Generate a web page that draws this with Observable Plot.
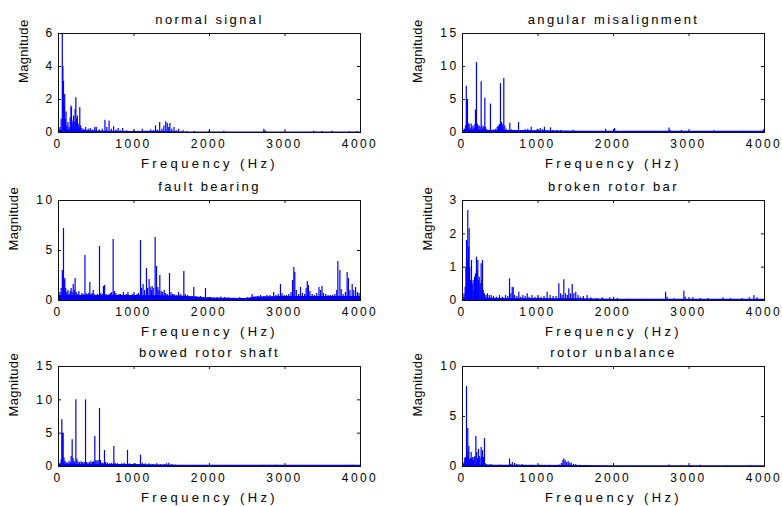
<!DOCTYPE html>
<html><head><meta charset="utf-8">
<script src="https://cdn.jsdelivr.net/npm/d3@7"></script>
<script src="https://cdn.jsdelivr.net/npm/@observablehq/plot@0.6"></script>
<style>
body{margin:0;background:#fff}
#chart{position:relative;width:782px;height:506px;background:#fff;overflow:hidden}
#chart svg{position:absolute;overflow:visible}
</style>
</head><body>
<div id="chart"></div>
<script>
// ---- data (frequency Hz, magnitude) ----
const xTicks = [0, 1000, 2000, 3000, 4000];
const xLabel = "Frequency (Hz)";
const yLabel = "Magnitude";

const titles = ["normal signal", "angular misalignment", "fault bearing", "broken rotor bar", "bowed rotor shaft", "rotor unbalance"];
const yMaxes = [6, 15, 10, 3, 15, 10];
const yTickSets = [[0,2,4,6],[0,5,10,15],[0,5,10],[0,1,2,3],[0,5,10,15],[0,5,10]];

const normalPeaks = [[20,0.3],[35,0.8],[50,5.95],[58,4.0],[66,3.1],[75,1.5],[82,2.3],[90,0.8],[100,1.25],[110,0.4],[125,0.6],[140,0.3],[155,0.9],[165,1.6],[172,1.5],[180,0.7],[190,0.5],[200,1.0],[210,0.6],[220,1.4],[230,2.1],[240,0.8],[250,1.0],[262,0.5],[272,0.3],[282,1.5],[292,0.4],[310,0.25],[335,0.2],[360,0.3],[395,0.2],[420,0.25],[450,0.15],[480,0.3],[500,0.3],[540,0.15],[580,0.2],[615,0.75],[640,0.3],[670,0.7],[700,0.2],[730,0.35],[760,0.15],[790,0.25],[820,0.1],[850,0.25],[900,0.1],[1000,0.12],[1050,0.08],[1110,0.2],[1170,0.08],[1220,0.15],[1260,0.12],[1285,0.4],[1310,0.15],[1340,0.6],[1370,0.2],[1395,0.4],[1420,0.65],[1440,0.55],[1460,0.3],[1475,0.55],[1500,0.2],[1530,0.3],[1560,0.1],[1590,0.2],[1650,0.1],[1700,0.06],[1800,0.06],[1990,0.08],[2190,0.07],[2720,0.2],[2740,0.1],[3380,0.07],[3490,0.06],[3625,0.07],[3850,0.05],[3950,0.06]];
const normalFloor = [[0,0.15],[300,0.12],[600,0.08],[1000,0.06],[1300,0.08],[1600,0.05],[1700,0.03],[4000,0.03]];

const angularPeaks = [[25,0.5],[40,1.0],[50,7.0],[58,5.0],[66,5.0],[75,1.3],[88,1.3],[100,0.6],[115,1.3],[125,0.8],[140,1.0],[155,0.6],[165,1.2],[172,3.4],[185,10.6],[195,1.3],[205,1.0],[220,1.0],[232,0.8],[247,7.7],[258,1.0],[270,0.6],[282,0.9],[296,5.2],[305,0.8],[320,0.4],[340,0.3],[370,4.3],[385,0.3],[410,0.4],[440,0.5],[460,0.8],[475,1.0],[490,1.2],[503,7.4],[515,1.5],[525,1.3],[535,1.0],[547,8.2],[560,1.0],[580,0.5],[600,0.3],[627,1.4],[650,0.4],[680,0.3],[710,0.3],[742,1.5],[770,0.3],[800,0.3],[830,0.4],[865,0.5],[910,0.8],[950,0.3],[990,0.5],[1030,0.6],[1060,0.4],[1085,0.8],[1120,0.3],[1165,0.7],[1200,0.3],[1250,0.3],[1300,0.3],[1370,0.2],[1465,0.35],[1550,0.15],[1700,0.1],[1895,0.5],[2015,0.6],[2200,0.1],[2500,0.1],[2735,0.7],[2750,0.3],[2900,0.3],[3100,0.15],[3330,0.25],[3600,0.15],[3700,0.2],[3985,0.4]];
const angularFloor = [[0,0.35],[600,0.3],[1000,0.25],[1600,0.2],[2000,0.18],[4000,0.18]];

const faultPeaks = [[20,0.8],[35,1.2],[50,3.0],[58,2.6],[66,7.2],[75,2.0],[84,2.2],[95,1.2],[110,0.8],[125,1.0],[140,0.6],[155,0.9],[168,1.2],[180,0.8],[195,1.6],[208,1.0],[220,2.2],[235,0.8],[250,0.6],[270,0.9],[290,0.5],[310,0.7],[330,0.6],[350,4.5],[365,0.7],[380,0.6],[400,0.7],[415,1.8],[430,0.6],[445,0.7],[460,1.0],[475,0.6],[495,0.5],[515,0.6],[543,5.4],[560,0.7],[580,0.6],[595,1.4],[610,1.5],[630,0.6],[650,0.5],[670,0.6],[690,0.7],[705,0.8],[724,6.1],[740,0.9],[760,0.7],[780,0.5],[800,0.6],[820,0.6],[840,0.5],[860,0.8],[880,0.5],[900,0.6],[920,0.8],[940,0.5],[960,0.4],[980,0.6],[1000,0.8],[1020,0.5],[1040,0.6],[1060,0.7],[1086,6.0],[1100,1.2],[1120,1.6],[1140,1.0],[1165,3.2],[1180,1.2],[1200,2.1],[1215,1.3],[1230,1.0],[1240,1.4],[1255,1.2],[1280,6.3],[1298,3.4],[1315,1.3],[1330,1.0],[1342,2.5],[1360,0.9],[1380,0.8],[1400,1.0],[1420,0.7],[1440,0.6],[1470,2.7],[1490,0.8],[1510,0.6],[1530,0.6],[1560,0.5],[1590,0.8],[1620,0.6],[1660,2.9],[1680,0.6],[1710,0.5],[1740,0.4],[1770,0.4],[1792,1.3],[1820,0.4],[1850,0.3],[1880,0.4],[1910,0.3],[1947,1.2],[1980,0.3],[2020,0.3],[2060,0.25],[2100,0.3],[2150,0.35],[2200,0.3],[2250,0.25],[2300,0.2],[2350,0.15],[2400,0.3],[2450,0.2],[2500,0.3],[2565,0.6],[2600,0.3],[2640,0.4],[2675,0.5],[2720,0.4],[2760,0.5],[2800,0.5],[2850,0.8],[2880,0.5],[2910,0.6],[2940,1.6],[2960,0.7],[2990,0.5],[3020,0.5],[3050,0.6],[3080,0.8],[3100,2.0],[3117,3.3],[3130,2.8],[3150,1.0],[3180,0.6],[3205,1.3],[3230,0.7],[3260,0.6],[3280,1.2],[3295,1.9],[3310,1.5],[3330,0.9],[3360,0.6],[3390,0.5],[3420,0.7],[3450,1.3],[3470,1.0],[3490,1.4],[3510,0.7],[3540,0.6],[3570,0.5],[3600,0.5],[3630,0.5],[3660,0.6],[3685,1.0],[3700,3.9],[3727,3.0],[3745,1.1],[3770,0.6],[3800,0.8],[3823,2.8],[3840,2.2],[3860,1.0],[3890,1.6],[3910,1.0],[3935,1.3],[3960,0.8],[3980,0.7]];
const faultFloor = [[0,0.5],[1000,0.5],[1600,0.45],[2000,0.25],[2500,0.2],[2600,0.35],[3000,0.4],[4000,0.4]];

const brokenPeaks = [[20,0.2],[35,0.4],[45,1.0],[53,1.8],[62,1.2],[70,2.7],[80,1.6],[88,2.15],[96,1.0],[105,0.6],[112,0.4],[119,1.2],[130,0.5],[141,0.6],[150,0.3],[160,0.7],[172,0.8],[185,1.3],[195,0.9],[203,1.2],[212,0.6],[222,0.7],[235,0.5],[247,1.1],[256,0.6],[265,1.2],[275,0.3],[290,0.2],[310,0.15],[330,0.2],[355,0.15],[380,0.15],[410,0.12],[450,0.1],[490,0.15],[530,0.1],[570,0.15],[600,0.12],[623,0.65],[640,0.2],[658,0.4],[672,0.38],[690,0.15],[720,0.12],[746,0.25],[770,0.1],[800,0.15],[830,0.12],[857,0.2],[880,0.1],[920,0.15],[960,0.1],[1000,0.15],[1040,0.1],[1080,0.12],[1121,0.25],[1160,0.15],[1200,0.12],[1240,0.12],[1276,0.5],[1300,0.2],[1320,0.15],[1342,0.62],[1365,0.2],[1390,0.15],[1408,0.35],[1430,0.2],[1453,0.48],[1475,0.2],[1500,0.25],[1530,0.15],[1560,0.1],[1600,0.12],[1651,0.15],[1700,0.08],[1780,0.06],[1850,0.08],[1950,0.08],[2050,0.06],[2200,0.04],[2400,0.04],[2600,0.04],[2690,0.25],[2710,0.1],[2800,0.05],[2932,0.28],[2950,0.1],[3050,0.08],[3150,0.06],[3250,0.06],[3450,0.08],[3550,0.06],[3700,0.06],[3800,0.08],[3860,0.15],[3900,0.08]];
const brokenFloor = [[0,0.08],[600,0.06],[1600,0.05],[2000,0.035],[4000,0.035]];

const bowedPeaks = [[20,0.5],[35,1.0],[44,7.0],[52,5.0],[62,5.0],[72,1.3],[85,0.8],[100,0.6],[120,0.5],[140,0.8],[155,0.6],[168,1.5],[181,4.0],[192,1.2],[205,0.8],[215,0.6],[230,10.0],[242,1.1],[258,0.7],[280,0.6],[300,0.7],[320,0.6],[340,0.6],[358,10.0],[372,0.6],[390,0.5],[410,0.6],[430,0.8],[450,0.6],[465,0.7],[481,4.5],[495,0.9],[510,0.8],[525,0.9],[543,8.7],[556,0.9],[575,0.5],[590,0.5],[609,2.4],[625,0.6],[650,0.5],[680,0.4],[705,0.5],[733,3.0],[750,0.5],[780,0.4],[810,0.3],[840,0.4],[870,0.5],[914,2.4],[940,0.4],[980,0.3],[1020,0.4],[1050,0.3],[1086,1.7],[1110,0.5],[1150,0.4],[1200,0.4],[1250,0.3],[1300,0.4],[1350,0.3],[1400,0.3],[1430,0.4],[1461,0.5],[1500,0.3],[1545,0.2],[1600,0.15],[1700,0.1],[1900,0.1],[2000,0.12],[2200,0.08],[2500,0.08],[2720,0.2],[2760,0.15],[2800,0.2],[2850,0.15],[2880,0.2],[3000,0.1],[3150,0.1],[3380,0.15],[3500,0.15],[3700,0.1],[3890,0.2]];
const bowedFloor = [[0,0.35],[1000,0.3],[1600,0.2],[2000,0.18],[4000,0.18]];

const unbalancePeaks = [[20,0.4],[30,0.8],[40,0.9],[53,8.0],[62,1.0],[70,3.8],[78,1.5],[84,2.0],[92,0.7],[100,0.5],[108,0.8],[115,1.4],[125,0.8],[135,0.9],[145,0.6],[155,0.9],[165,1.0],[177,3.0],[188,1.4],[200,0.8],[212,1.7],[222,1.0],[232,0.8],[247,1.9],[256,1.0],[265,1.6],[278,0.9],[291,2.8],[300,0.3],[320,0.2],[350,0.15],[380,0.2],[420,0.1],[460,0.1],[500,0.12],[540,0.1],[580,0.1],[623,0.75],[640,0.2],[660,0.4],[690,0.3],[720,0.2],[750,0.15],[790,0.2],[840,0.1],[900,0.12],[960,0.1],[1020,0.12],[1080,0.1],[1150,0.12],[1210,0.1],[1280,0.15],[1310,0.3],[1330,0.6],[1342,0.75],[1360,0.6],[1380,0.4],[1400,0.5],[1420,0.3],[1440,0.35],[1470,0.2],[1500,0.2],[1550,0.12],[1600,0.1],[1700,0.06],[1900,0.05],[2200,0.05],[2735,0.15],[2900,0.1],[3030,0.1],[3150,0.12],[3500,0.05],[3810,0.1]];
const unbalanceFloor = [[0,0.2],[300,0.12],[1600,0.1],[2000,0.08],[4000,0.08]];

const peakSets = [normalPeaks, angularPeaks, faultPeaks, brokenPeaks, bowedPeaks, unbalancePeaks];
const floorSets = [normalFloor, angularFloor, faultFloor, brokenFloor, bowedFloor, unbalanceFloor];

// ---- layout ----
const cols = [{left: 0, width: 390, ml: 58, mr: 30}, {left: 390, width: 392, ml: 72, mr: 18}];
const rows = [{top: 0, height: 168, mt: 33, mb: 36}, {top: 168, height: 168, mt: 32, mb: 36}, {top: 336, height: 170, mt: 30, mb: 40}];

const chart = document.getElementById("chart");
const font = "'Liberation Sans', Arial, Helvetica, sans-serif";
const fmt = d => String(d);

titles.forEach((title, i) => {
  const c = cols[i % 2], r = rows[Math.floor(i / 2)];
  const ymax = yMaxes[i];
  const yt = yTickSets[i];
  const peaks = peakSets[i].map(([f, m]) => ({f, m}));
  const floor = floorSets[i].map(([f, m]) => ({f, m}));
  const twoDigit = yt.some(v => String(v).length > 1);
  const blue = "#0000ff";
  const svg = Plot.plot({
    width: c.width, height: r.height,
    marginLeft: c.ml, marginRight: c.mr, marginTop: r.mt, marginBottom: r.mb,
    x: {domain: [0, 4000], label: null},
    y: {domain: [0, ymax], label: null},
    style: {fontFamily: font, fontSize: "12px", background: "transparent", color: "black", overflow: "visible"},
    marks: [
      Plot.areaY(floor, {x: "f", y: "m", fill: blue}),
      Plot.ruleX(peaks, {x: "f", y1: 0, y2: "m", stroke: blue, strokeWidth: 1.2}),
      Plot.frame({stroke: "#111"}),
      Plot.ruleX(xTicks, {x: d => d, y1: 0, y2: ymax * 0.03, stroke: "#111"}),
      Plot.ruleX(xTicks, {x: d => d, y1: ymax, y2: ymax * 0.97, stroke: "#111"}),
      Plot.ruleY(yt, {y: d => d, x1: 0, x2: 40, stroke: "#111"}),
      Plot.ruleY(yt, {y: d => d, x1: 4000, x2: 3960, stroke: "#111"}),
      Plot.axisX(xTicks, {tickSize: 0, tickPadding: 7, dx: -0.5, fontSize: 12, fill: "black", label: null, tickFormat: fmt}),
      Plot.axisY(yt, {tickSize: 0, tickPadding: 4, fontSize: 12, fill: "black", label: null, tickFormat: fmt}),
      Plot.text([title], {frameAnchor: "top", dy: -10, lineAnchor: "bottom", fontSize: 13, fill: "black"}),
      Plot.text([xLabel], {frameAnchor: "bottom", dy: 35, lineAnchor: "bottom", fontSize: 13, fill: "black"}),
      Plot.text([yLabel], {frameAnchor: "left", dx: twoDigit ? -45 : -35, rotate: -90, fontSize: 13, fill: "black"})
    ]
  });
  // MATLAB-export look: horizontally wide lettering
  svg.querySelectorAll("text").forEach(t => {
    const s = t.textContent;
    let ls = "2.4px";
    if (s === title) ls = "2.4px";
    else if (s === xLabel) ls = "3.4px";
    else if (s === yLabel) ls = "0.3px";
    t.style.letterSpacing = ls;
  });
  svg.style.left = c.left + "px";
  svg.style.top = r.top + "px";
  chart.appendChild(svg);
});
</script>
</body></html>
